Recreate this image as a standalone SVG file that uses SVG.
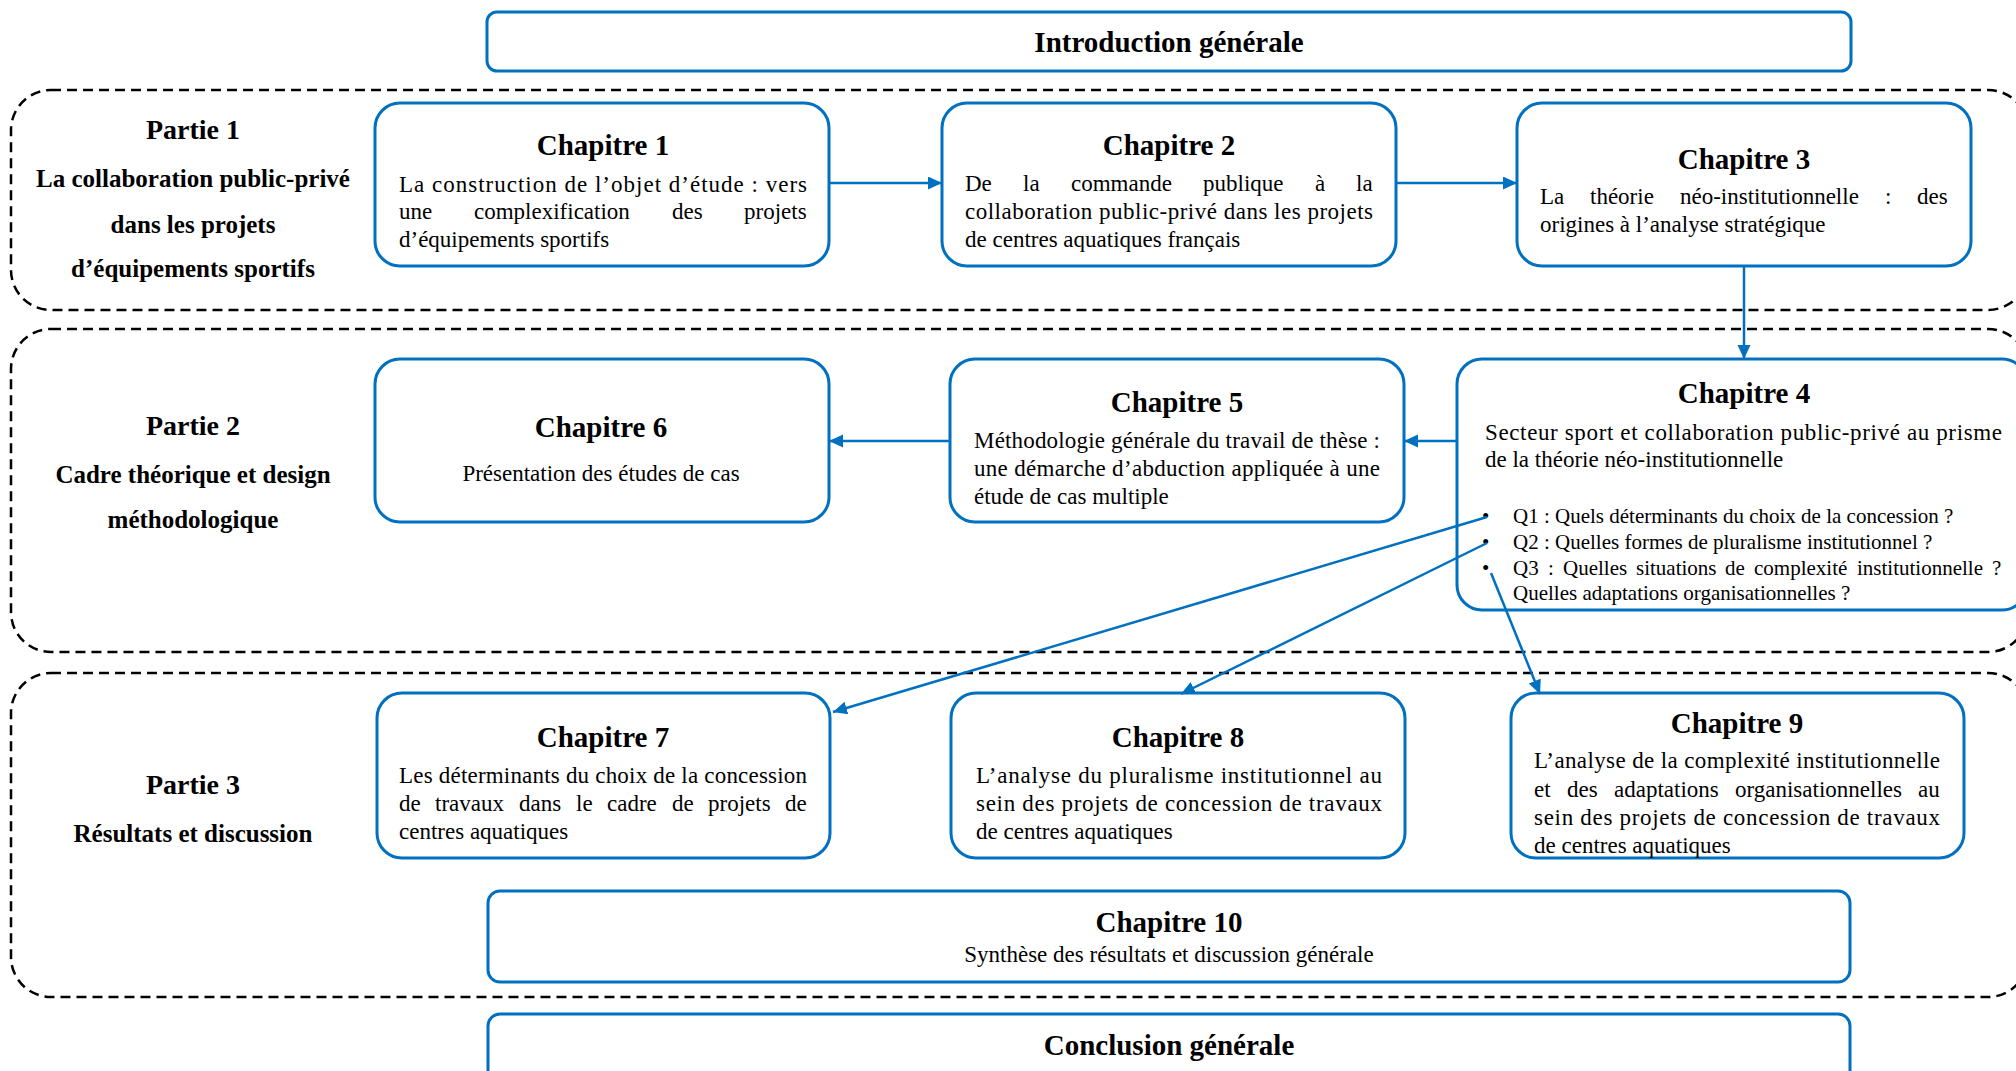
<svg xmlns="http://www.w3.org/2000/svg" width="2016" height="1071" viewBox="0 0 2016 1071">
<style>
.part{fill:none;stroke:#000;stroke-width:2.5;stroke-dasharray:10 6}
.box{fill:#fff;stroke:#0070C0;stroke-width:3}
.t{font-family:"Liberation Serif","Times New Roman",serif;fill:#000}
.h{font-size:29px;font-weight:bold;text-anchor:middle}
.ph{font-size:28px;font-weight:bold;text-anchor:middle}
.ps{font-size:25px;font-weight:bold;text-anchor:middle}
.b{font-size:23px}
.q{font-size:21px}
.c{text-anchor:middle}
.con{fill:none;stroke:#0070C0;stroke-width:2.5}
</style>
<defs>
<marker id="ah" markerUnits="userSpaceOnUse" markerWidth="16" markerHeight="14" refX="14" refY="6.5" orient="auto">
<path d="M0,0 L14,6.5 L0,13 z" fill="#0070C0"/>
</marker>
</defs>

<g id="partie1">
<rect class="part" x="11" y="90" width="2017" height="220" rx="40"/>
<text class="t ph" x="193" y="139">Partie 1</text>
<text class="t ps" x="193" y="187">La collaboration public-privé</text>
<text class="t ps" x="193" y="233">dans les projets</text>
<text class="t ps" x="193" y="277">d’équipements sportifs</text>
</g>
<g id="partie2">
<rect class="part" x="11" y="329" width="2017" height="323" rx="40"/>
<text class="t ph" x="193" y="435">Partie 2</text>
<text class="t ps" x="193" y="483">Cadre théorique et design</text>
<text class="t ps" x="193" y="528">méthodologique</text>
</g>
<g id="partie3">
<rect class="part" x="11" y="673" width="2017" height="324" rx="40"/>
<text class="t ph" x="193" y="794">Partie 3</text>
<text class="t ps" x="193" y="842">Résultats et discussion</text>
</g>

<g id="intro">
<rect class="box" x="487" y="12" width="1364" height="59" rx="10"/>
<text class="t h" x="1169" y="52">Introduction générale</text>
</g>

<g id="ch1">
<rect class="box" x="375" y="103" width="454" height="163" rx="25"/>
<text class="t h" x="603" y="155">Chapitre 1</text>
<text class="t b" x="399" y="192" textLength="408" lengthAdjust="spacing">La construction de l’objet d’étude : vers</text>
<text class="t b" y="219"><tspan x="399">une</tspan><tspan x="474">complexification</tspan><tspan x="672">des</tspan><tspan x="744">projets</tspan></text>
<text class="t b" x="399" y="247">d’équipements sportifs</text>
</g>

<g id="ch2">
<rect class="box" x="942" y="103" width="454" height="163" rx="25"/>
<text class="t h" x="1169" y="155">Chapitre 2</text>
<text class="t b" y="191"><tspan x="965">De</tspan><tspan x="1023">la</tspan><tspan x="1071">commande</tspan><tspan x="1203">publique</tspan><tspan x="1315">à</tspan><tspan x="1356">la</tspan></text>
<text class="t b" x="965" y="219" textLength="408" lengthAdjust="spacing">collaboration public-privé dans les projets</text>
<text class="t b" x="965" y="247">de centres aquatiques français</text>
</g>

<g id="ch3">
<rect class="box" x="1517" y="103" width="454" height="163" rx="25"/>
<text class="t h" x="1744" y="169">Chapitre 3</text>
<text class="t b" y="204"><tspan x="1540">La</tspan><tspan x="1590">théorie</tspan><tspan x="1680">néo-institutionnelle</tspan><tspan x="1885">:</tspan><tspan x="1917">des</tspan></text>
<text class="t b" x="1540" y="232">origines à l’analyse stratégique</text>
</g>

<g id="ch4">
<rect class="box" x="1457" y="359" width="570" height="251" rx="25"/>
<text class="t h" x="1744" y="403">Chapitre 4</text>
<text class="t b" x="1485" y="440" textLength="517" lengthAdjust="spacing">Secteur sport et collaboration public-privé au prisme</text>
<text class="t b" x="1485" y="467">de la théorie néo-institutionnelle</text>
<text class="t q" x="1482" y="523">•</text>
<text class="t q" x="1482" y="549">•</text>
<text class="t q" x="1482" y="575">•</text>
<text class="t q" x="1513" y="523">Q1 : Quels déterminants du choix de la concession ?</text>
<text class="t q" x="1513" y="549">Q2 : Quelles formes de pluralisme institutionnel ?</text>
<text class="t q" y="575"><tspan x="1513">Q3</tspan><tspan x="1548">:</tspan><tspan x="1563">Quelles</tspan><tspan x="1636">situations</tspan><tspan x="1725">de</tspan><tspan x="1754">complexité</tspan><tspan x="1857">institutionnelle</tspan><tspan x="1992">?</tspan></text>
<text class="t q" x="1513" y="600">Quelles adaptations organisationnelles ?</text>
</g>

<g id="ch5">
<rect class="box" x="950" y="359" width="454" height="163" rx="25"/>
<text class="t h" x="1177" y="412">Chapitre 5</text>
<text class="t b" x="974" y="448" textLength="406" lengthAdjust="spacing">Méthodologie générale du travail de thèse :</text>
<text class="t b" x="974" y="476" textLength="406" lengthAdjust="spacing">une démarche d’abduction appliquée à une</text>
<text class="t b" x="974" y="504">étude de cas multiple</text>
</g>

<g id="ch6">
<rect class="box" x="375" y="359" width="454" height="163" rx="25"/>
<text class="t h" x="601" y="437">Chapitre 6</text>
<text class="t b c" x="601" y="481">Présentation des études de cas</text>
</g>

<g id="ch7">
<rect class="box" x="377" y="693" width="453" height="165" rx="25"/>
<text class="t h" x="603" y="747">Chapitre 7</text>
<text class="t b" x="399" y="783" textLength="408" lengthAdjust="spacing">Les déterminants du choix de la concession</text>
<text class="t b" y="811"><tspan x="399">de</tspan><tspan x="435">travaux</tspan><tspan x="519">dans</tspan><tspan x="576">le</tspan><tspan x="607">cadre</tspan><tspan x="672">de</tspan><tspan x="708">projets</tspan><tspan x="785">de</tspan></text>
<text class="t b" x="399" y="839">centres aquatiques</text>
</g>

<g id="ch8">
<rect class="box" x="951" y="693" width="454" height="165" rx="25"/>
<text class="t h" x="1178" y="747">Chapitre 8</text>
<text class="t b" x="976" y="783" textLength="406" lengthAdjust="spacing">L’analyse du pluralisme institutionnel au</text>
<text class="t b" x="976" y="811" textLength="406" lengthAdjust="spacing">sein des projets de concession de travaux</text>
<text class="t b" x="976" y="839">de centres aquatiques</text>
</g>

<g id="ch9">
<rect class="box" x="1511" y="693" width="453" height="165" rx="25"/>
<text class="t h" x="1737" y="733">Chapitre 9</text>
<text class="t b" x="1534" y="768" textLength="406" lengthAdjust="spacing">L’analyse de la complexité institutionnelle</text>
<text class="t b" y="797"><tspan x="1534">et</tspan><tspan x="1567">des</tspan><tspan x="1614">adaptations</tspan><tspan x="1735">organisationnelles</tspan><tspan x="1918">au</tspan></text>
<text class="t b" x="1534" y="825" textLength="406" lengthAdjust="spacing">sein des projets de concession de travaux</text>
<text class="t b" x="1534" y="853">de centres aquatiques</text>
</g>

<g id="ch10">
<rect class="box" x="488" y="891" width="1362" height="91" rx="12"/>
<text class="t h" x="1169" y="932">Chapitre 10</text>
<text class="t b c" x="1169" y="962">Synthèse des résultats et discussion générale</text>
</g>

<g id="conclusion">
<rect class="box" x="488" y="1014" width="1362" height="70" rx="12"/>
<text class="t h" x="1169" y="1055">Conclusion générale</text>
</g>

<g id="connectors">
<line class="con" x1="829" y1="183" x2="942" y2="183" marker-end="url(#ah)"/>
<line class="con" x1="1396" y1="183" x2="1517" y2="183" marker-end="url(#ah)"/>
<line class="con" x1="1744" y1="266" x2="1744" y2="359" marker-end="url(#ah)"/>
<line class="con" x1="1457" y1="441" x2="1404" y2="441" marker-end="url(#ah)"/>
<line class="con" x1="950" y1="441" x2="829" y2="441" marker-end="url(#ah)"/>
<line class="con" x1="1487" y1="517" x2="833" y2="712" marker-end="url(#ah)"/>
<line class="con" x1="1487" y1="543" x2="1181" y2="694" marker-end="url(#ah)"/>
<line class="con" x1="1491" y1="573" x2="1540" y2="694" stroke-width="2" marker-end="url(#ah)"/>
</g>
</svg>
